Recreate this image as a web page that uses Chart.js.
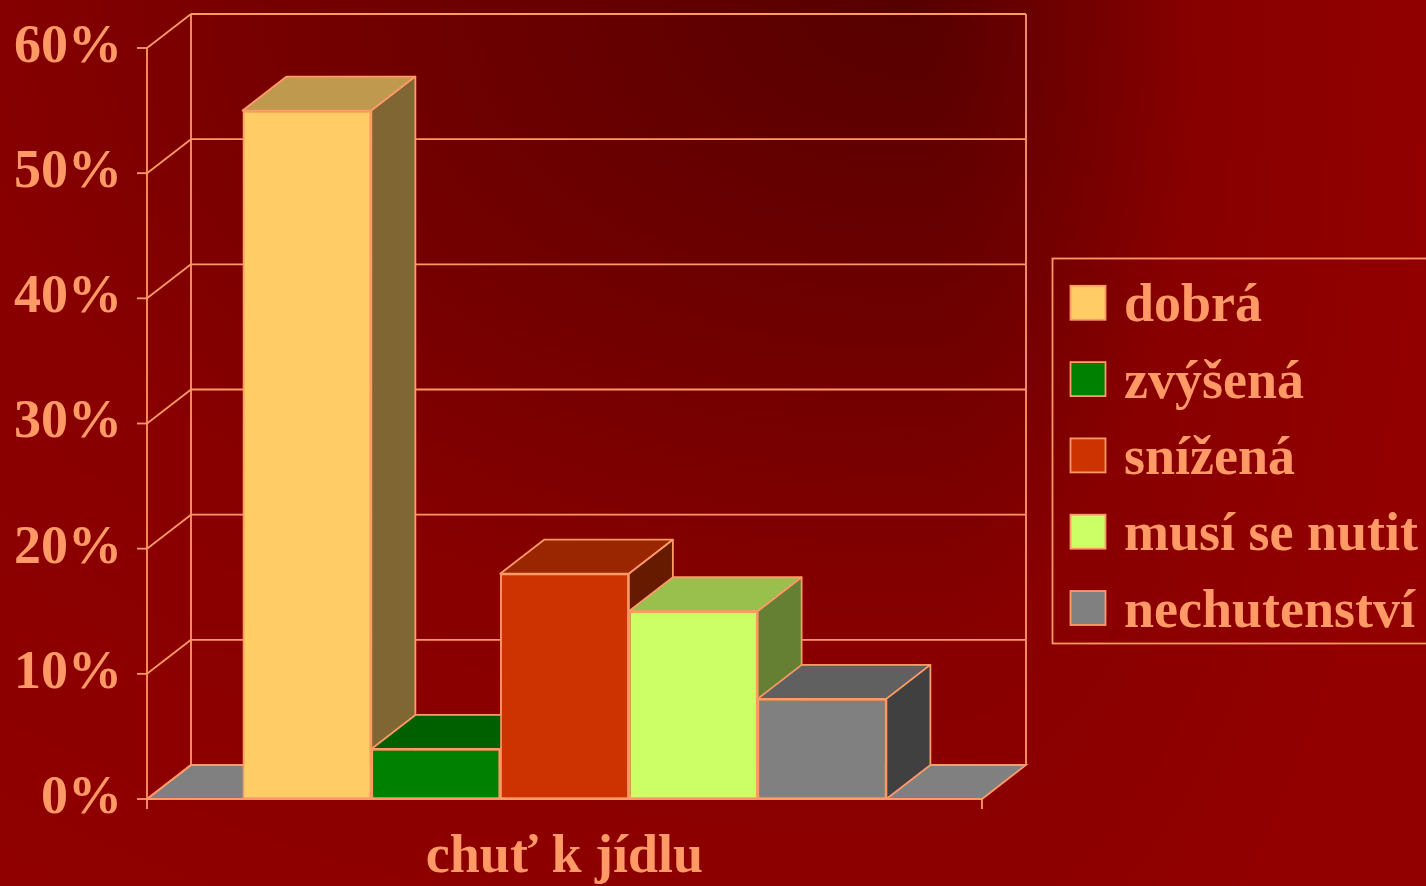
<!DOCTYPE html>
<html lang="cs">
<head>
  <meta charset="UTF-8" />
  <title>Chuť k jídlu</title>
  <script src="https://cdn.jsdelivr.net/npm/chart.js"></script>
  <style>
    html, body { margin: 0; padding: 0; background: #900000; overflow: hidden; }
  </style>
</head>
<body>
<canvas id="chutChart" width="1426" height="886"></canvas>
<script>
// data
const categories = ['chuť k jídlu'];
const seriesNames = ['dobrá', 'zvýšená', 'snížená', 'musí se nutit', 'nechutenství'];
const seriesValues = [55, 4, 18, 15, 8];
const seriesColors = ['#FFCC66', '#008000', '#CC3300', '#CCFF66', '#808080'];
const yTicks = [0, 10, 20, 30, 40, 50, 60];

const LINE = '#FF9966';
const FLOOR = '#808080';
const DX = 44, DY = -34; // hloubka 3D

function shade(hex, k) {
  const n = parseInt(hex.slice(1), 16);
  const r = Math.round(((n >> 16) & 255) * k);
  const g = Math.round(((n >> 8) & 255) * k);
  const b = Math.round((n & 255) * k);
  return `rgb(${r},${g},${b})`;
}

function poly(ctx, pts, fill) {
  ctx.beginPath();
  ctx.moveTo(pts[0][0], pts[0][1]);
  for (let i = 1; i < pts.length; i++) ctx.lineTo(pts[i][0], pts[i][1]);
  ctx.closePath();
  if (fill) { ctx.fillStyle = fill; ctx.fill(); }
  ctx.stroke();
}

function line(ctx, x1, y1, x2, y2) {
  ctx.beginPath();
  ctx.moveTo(x1, y1);
  ctx.lineTo(x2, y2);
  ctx.stroke();
}

// pozadí – tmavé místo nahoře
function halfGlow(ctx, x0, x1, cx, rx, ry, h) {
  ctx.save();
  ctx.beginPath();
  ctx.rect(x0, 0, x1 - x0, h);
  ctx.clip();
  ctx.translate(cx, 0);
  ctx.scale(rx, ry);
  const g = ctx.createRadialGradient(0, 0, 0, 0, 0, 1);
  g.addColorStop(0, '#560000');
  g.addColorStop(0.3, '#700000');
  g.addColorStop(0.55, '#880000');
  g.addColorStop(1, '#920000');
  ctx.fillStyle = g;
  ctx.fillRect(-5, -5, 10, 10);
  ctx.restore();
}

const background = {
  id: 'background',
  beforeDraw(chart) {
    const { ctx, width, height } = chart;
    ctx.save();
    ctx.fillStyle = '#920000';
    ctx.fillRect(0, 0, width, height);
    halfGlow(ctx, 0, 915, 915, 1760, 1180, height);
    halfGlow(ctx, 915, width, 915, 520, 1180, height);
    ctx.restore();
  }
};

// 3D rám: zadní stěna, levá stěna, podlaha
const frame3d = {
  id: 'frame3d',
  beforeDatasetsDraw(chart) {
    const { ctx, chartArea: a, scales: { y } } = chart;
    const L = a.left, R = a.right, B = a.bottom, T = a.top;
    ctx.save();
    ctx.strokeStyle = LINE;
    ctx.lineWidth = 1.8;

    poly(ctx, [[L, B], [R, B], [R + DX, B + DY], [L + DX, B + DY]], FLOOR);

    yTicks.forEach(v => {
      const py = y.getPixelForValue(v);
      line(ctx, L + DX, py + DY, R + DX, py + DY);
      line(ctx, L, py, L + DX, py + DY);
      line(ctx, L - 10, py, L, py);
    });
    line(ctx, L, T, L, B + 10);
    line(ctx, L + DX, T + DY, L + DX, B + DY);
    line(ctx, R + DX, T + DY, R + DX, B + DY);
    line(ctx, R, B, R, B + 10);
    ctx.restore();
  },
  afterDatasetsDraw(chart) {
    const { ctx } = chart;
    ctx.save();
    chart.data.datasets.forEach((ds, i) => {
      const meta = chart.getDatasetMeta(i);
      meta.data.forEach(bar => {
        const { x, y, base, width } = bar.getProps(['x', 'y', 'base', 'width'], true);
        const l = x - width / 2, r = x + width / 2;
        bar.draw(ctx);
        ctx.strokeStyle = LINE;
        ctx.lineWidth = 1.8;
        ctx.lineJoin = 'round';
        poly(ctx, [[l, y], [r, y], [r + DX, y + DY], [l + DX, y + DY]], shade(ds.backgroundColor, 0.75));
        poly(ctx, [[r, y], [r + DX, y + DY], [r + DX, base + DY], [r, base]], shade(ds.backgroundColor, 0.5));
      });
    });
    ctx.restore();
  }
};

// legenda s rámečkem
const legendBox = {
  id: 'legendBox',
  afterDraw(chart) {
    const { ctx } = chart;
    ctx.save();
    ctx.strokeStyle = LINE;
    ctx.lineWidth = 1.8;
    ctx.strokeRect(1052.5, 258.5, 420, 385);
    ctx.font = 'bold 54px "Liberation Serif", "Times New Roman", serif';
    ctx.textBaseline = 'alphabetic';
    chart.data.datasets.forEach((ds, i) => {
      const cy = 302.8 + i * 76.3;
      ctx.fillStyle = ds.backgroundColor;
      ctx.fillRect(1070.5, cy - 17, 35, 34);
      ctx.strokeRect(1070.5, cy - 17, 35, 34);
      ctx.fillStyle = LINE;
      ctx.fillText(ds.label, 1124, cy + 18.5);
    });
    ctx.restore();
  }
};

Chart.defaults.font.family = '"Liberation Serif", "Times New Roman", serif';
Chart.defaults.color = LINE;

new Chart(document.getElementById('chutChart').getContext('2d'), {
  type: 'bar',
  data: {
    labels: categories,
    datasets: seriesNames.map((name, i) => ({
      label: name,
      data: [seriesValues[i]],
      backgroundColor: seriesColors[i],
      borderColor: LINE,
      borderWidth: 1.8,
      borderSkipped: false,
      barPercentage: 1,
      categoryPercentage: 0.771
    }))
  },
  options: {
    responsive: false,
    animation: false,
    layout: { padding: { top: 48, right: 444, left: 0, bottom: 0 } },
    plugins: {
      legend: { display: false },
      tooltip: { enabled: false }
    },
    scales: {
      x: {
        grid: { display: false, drawTicks: false },
        border: { display: false },
        ticks: { color: LINE, padding: 27, font: { size: 54, weight: 'bold' } },
        afterFit: s => { s.height = 87; s.paddingLeft = 0; s.paddingRight = 0; }
      },
      y: {
        min: 0,
        max: 60,
        afterBuildTicks: s => { s.ticks = yTicks.map(v => ({ value: v })); },
        grid: { display: false, drawTicks: false },
        border: { display: false },
        ticks: { color: LINE, padding: 25, font: { size: 54, weight: 'bold' }, callback: v => v + '%' },
        afterFit: s => { s.width = 147; s.paddingTop = 0; s.paddingBottom = 0; }
      }
    }
  },
  plugins: [background, frame3d, legendBox]
});
</script>
</body>
</html>
